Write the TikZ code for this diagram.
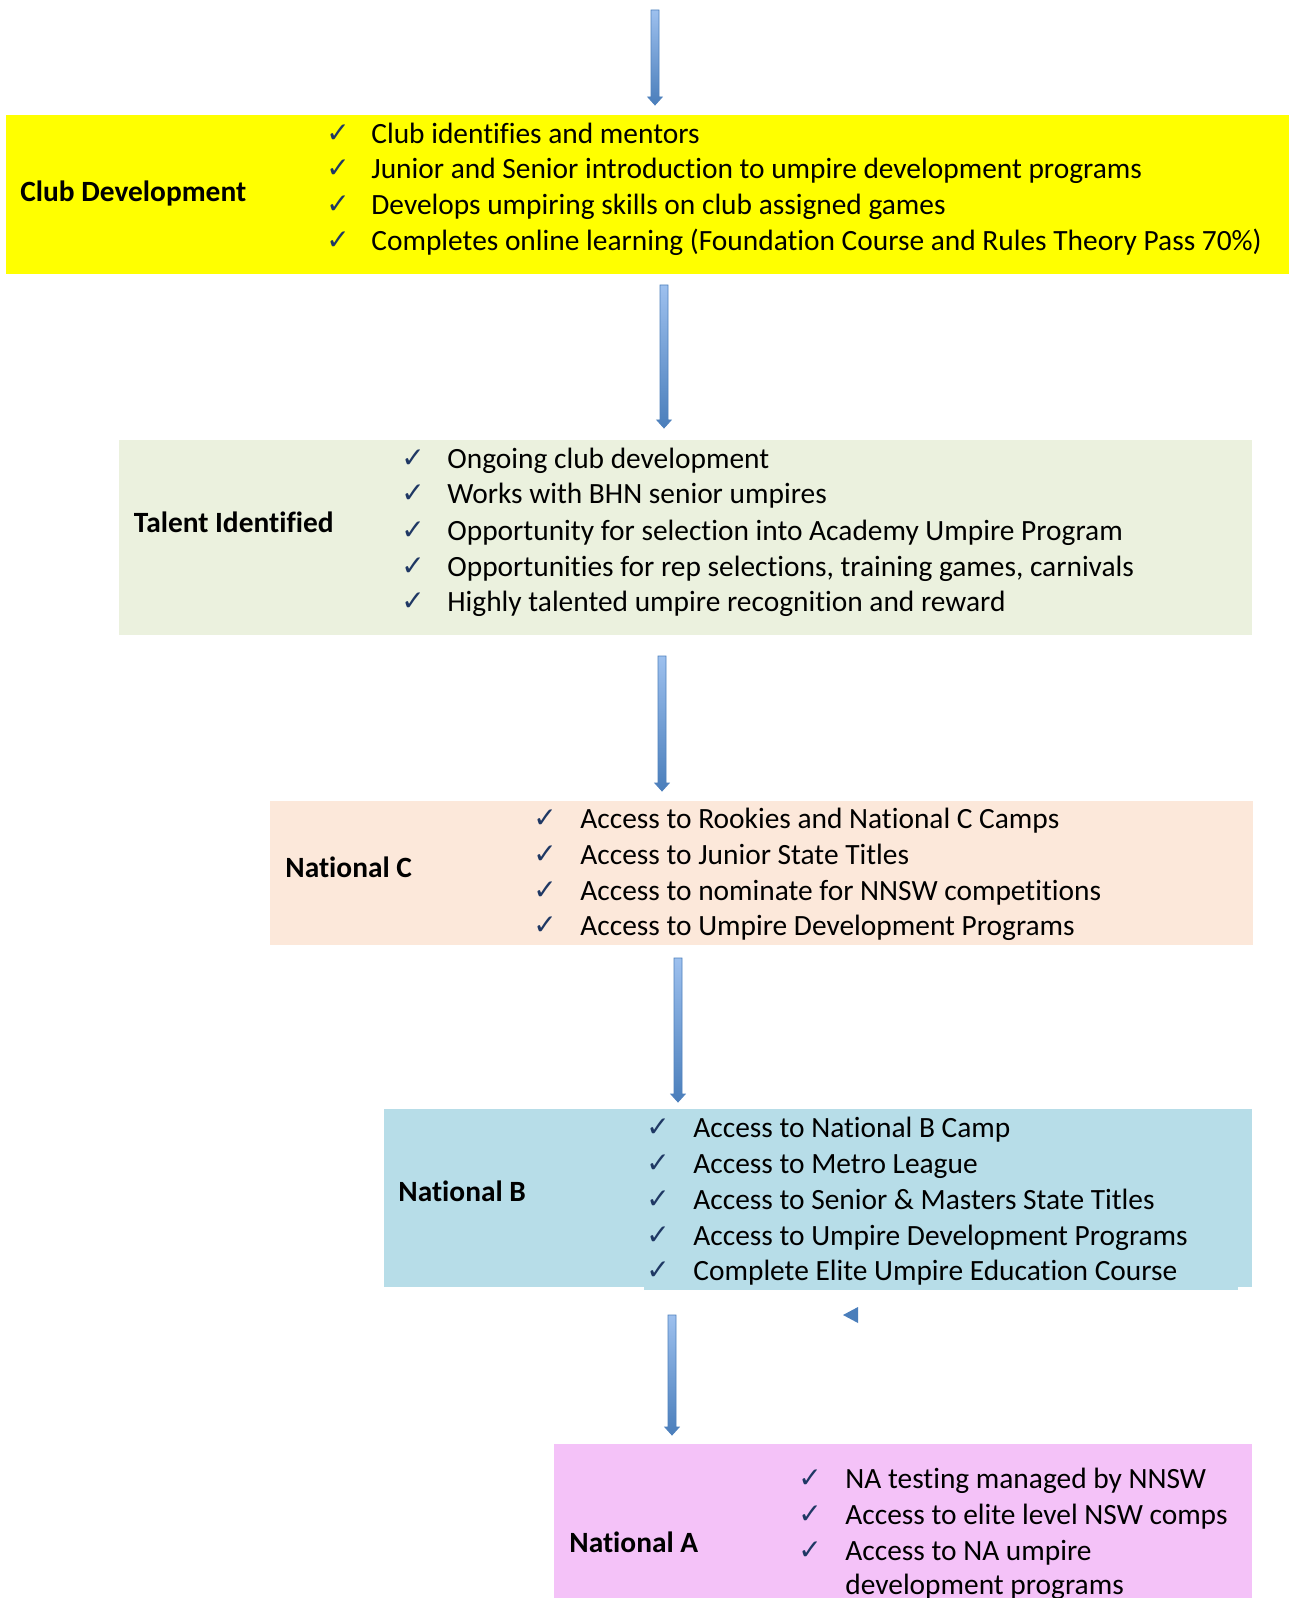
\documentclass[tikz,border=0pt]{standalone}
\usepackage{fontspec}
\setmainfont{Carlito}[Ligatures=NoCommon]
\newfontfamily\symfont{DejaVu Sans}
\usetikzlibrary{calc}
\definecolor{yel}{HTML}{FFFF00}
\definecolor{grn}{HTML}{EBF1DE}
\definecolor{pch}{HTML}{FCE8DA}
\definecolor{blu}{HTML}{B7DDE8}
\definecolor{pnk}{HTML}{F4C2F8}
\definecolor{checkc}{HTML}{1F3864}
\definecolor{arrowtop}{HTML}{9DC0EE}
\definecolor{arrowbot}{HTML}{4A7EBB}
\definecolor{arrowedge}{HTML}{4F81BD}
\tikzset{
  box/.style={rectangle, draw=none, inner sep=0, outer sep=0},
  item/.style={anchor=mid west, inner sep=0, yshift=-2.5pt, font=\fontsize{14.7}{17.5}\selectfont},
  lab/.style={anchor=mid west, inner sep=0, yshift=-2.5pt, font=\fontsize{14.7}{17.5}\selectfont\bfseries},
  chk/.style={anchor=mid west, inner sep=0, yshift=-2pt, text=checkc, font=\symfont\fontsize{14}{16}\selectfont},
  blockarrow/.style={draw=arrowedge, line width=0.4pt, top color=arrowtop, bottom color=arrowbot,
    to path={let \p1=(\tikztostart), \p2=(\tikztotarget) in
      (\x1-2pt,\y1) -- (\x1+2pt,\y1) -- (\x1+2pt,\y2+4pt) -- (\x1+3.6pt,\y2+4pt) -- (\x1,\y2)
      -- (\x1-3.6pt,\y2+4pt) -- (\x1-2pt,\y2+4pt) -- cycle}}
}
\begin{document}
\begin{tikzpicture}[x=0.5pt,y=-0.5pt]
\clip (0,0) rectangle (1289,1598);
\fill[white] (0,0) rectangle (1289,1598);

% boxes
\node[box, fill=yel, minimum width=641.5pt, minimum height=79.5pt] (b1) at (647.5,194.5) {};
\node[box, fill=grn, minimum width=566.5pt, minimum height=97.5pt] (b2) at (685.5,537.5) {};
\node[box, fill=pch, minimum width=491.5pt, minimum height=72pt] (b3) at (761.5,873) {};
\node[box, fill=blu, minimum width=434pt, minimum height=89pt] (b4) at (818,1198) {};
\fill[blu] (644,1270) rectangle (1238,1290);
\node[box, fill=pnk, minimum width=349pt, minimum height=80pt] (b5) at (903,1524) {};

% labels
\node[lab] (l1) at (20,192) {Club Development};
\node[lab] (l2) at (133.5,523) {Talent Identified};
\node[lab] (l3) at (285,868) {National C};
\node[lab] (l4) at (398,1192) {National B};
\node[lab] (l5) at (569,1543) {National A};

% box 1
\node[chk] (c11) at (326,133.5) {✓};
\node[chk] (c12) at (326,169) {✓};
\node[chk] (c13) at (326,205) {✓};
\node[chk] (c14) at (326,240.5) {✓};
\node[item] (t11) at (371,133.5) {Club identifies and mentors};
\node[item] (t12) at (371,169) {Junior and Senior introduction to umpire development programs};
\node[item] (t13) at (371,205) {Develops umpiring skills on club assigned games};
\node[item] (t14) at (371,240.5) {Completes online learning (Foundation Course and Rules Theory Pass 70\%)};

% box 2
\node[chk] (c21) at (401,458.5) {✓};
\node[chk] (c22) at (401,494) {✓};
\node[chk] (c23) at (401,531) {✓};
\node[chk] (c24) at (401,566.5) {✓};
\node[chk] (c25) at (401,602) {✓};
\node[item] (t21) at (447,458.5) {Ongoing club development};
\node[item] (t22) at (447,494) {Works with BHN senior umpires};
\node[item] (t23) at (447,531) {Opportunity for selection into Academy Umpire Program};
\node[item] (t24) at (447,566.5) {Opportunities for rep selections, training games, carnivals};
\node[item] (t25) at (447,602) {Highly talented umpire recognition and reward};

% box 3
\node[chk] (c31) at (533,819) {✓};
\node[chk] (c32) at (533,855) {✓};
\node[chk] (c33) at (533,891) {✓};
\node[chk] (c34) at (533,926) {✓};
\node[item] (t31) at (580,819) {Access to Rookies and National C Camps};
\node[item] (t32) at (580,855) {Access to Junior State Titles};
\node[item] (t33) at (580,891) {Access to nominate for NNSW competitions};
\node[item] (t34) at (580,926) {Access to Umpire Development Programs};

% box 4
\node[chk] (c41) at (646,1128) {✓};
\node[chk] (c42) at (646,1164) {✓};
\node[chk] (c43) at (646,1200) {✓};
\node[chk] (c44) at (646,1236) {✓};
\node[chk] (c45) at (646,1271) {✓};
\node[item] (t41) at (693,1128) {Access to National B Camp};
\node[item] (t42) at (693,1164) {Access to Metro League};
\node[item] (t43) at (693,1200) {Access to Senior \& Masters State Titles};
\node[item] (t44) at (693,1236) {Access to Umpire Development Programs};
\node[item] (t45) at (693,1271) {Complete Elite Umpire Education Course};

% box 5
\node[chk] (c51) at (798,1479) {✓};
\node[chk] (c52) at (798,1515) {✓};
\node[chk] (c53) at (798,1551) {✓};
\node[item] (t51) at (845,1479) {NA testing managed by NNSW};
\node[item] (t52) at (845,1515) {Access to elite level NSW comps};
\node[item] (t53) at (845,1551) {Access to NA umpire};
\node[item] (t54) at (845,1585) {development programs};

% arrows
\coordinate (a1s) at (655,10);   \coordinate (a1e) at (655,105);
\coordinate (a2s) at (664,285);  \coordinate (a2e) at (664,428);
\coordinate (a3s) at (662,656);  \coordinate (a3e) at (662,791);
\coordinate (a4s) at (678,958);  \coordinate (a4e) at (678,1102);
\coordinate (a5s) at (672,1315); \coordinate (a5e) at (672,1435);
\path[blockarrow] (a1s) to (a1e);
\path[blockarrow] (a2s) to (a2e);
\path[blockarrow] (a3s) to (a3e);
\path[blockarrow] (a4s) to (a4e);
\path[blockarrow] (a5s) to (a5e);

% stray arrow head
\fill[arrowbot] (843,1315) -- (858,1307) -- (858,1323) -- cycle;
\end{tikzpicture}
\end{document}
